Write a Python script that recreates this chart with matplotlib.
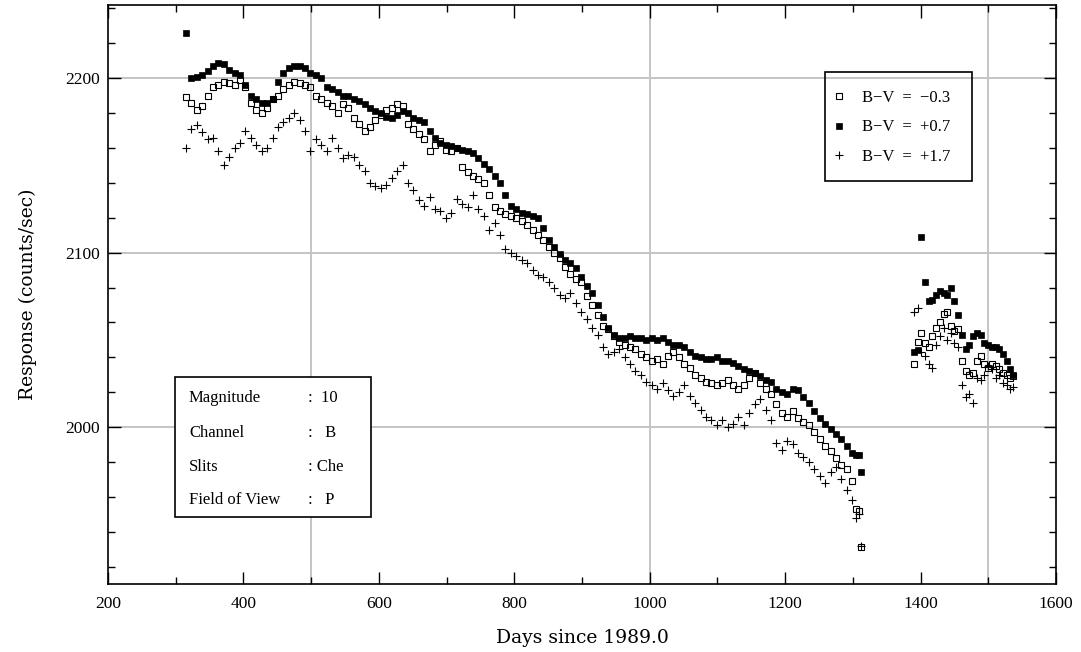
import matplotlib
matplotlib.use("Agg")
import matplotlib.pyplot as plt
from matplotlib.ticker import MultipleLocator
from matplotlib.patches import Rectangle

# ---------------- data ----------------
days = [315, 323, 331, 339, 347, 355, 363, 371, 379, 387, 395, 403, 411, 419, 427,
        435, 443, 451, 459, 467, 475, 483, 491, 499, 507, 515, 523, 531, 539, 547,
        555, 563, 571, 579, 587, 595, 603, 611, 619, 627, 635, 643, 651, 659, 667,
        675, 683, 691, 699, 707, 715, 723, 731, 739, 747, 755, 763, 771, 779, 787,
        795, 803, 811, 819, 827, 835, 843, 851, 859, 867, 875, 883, 891, 899, 907,
        915, 923, 931, 939, 947, 955, 963, 971, 979, 987, 995, 1003, 1011, 1019, 1027,
        1035, 1043, 1051, 1059, 1067, 1075, 1083, 1091, 1099, 1107, 1115, 1123, 1131, 1139, 1147,
        1155, 1163, 1171, 1179, 1187, 1195, 1203, 1211, 1219, 1227, 1235, 1243, 1251, 1259, 1267,
        1275, 1283, 1291, 1299, 1305, 1309, 1312]

resp_m03 = [2189, 2186, 2182, 2184, 2190, 2195, 2196, 2198, 2197, 2196, 2199, 2195, 2186, 2182, 2180,
            2183, 2188, 2190, 2194, 2196, 2198, 2197, 2196, 2195, 2190, 2188, 2186, 2184, 2180, 2185,
            2183, 2177, 2174, 2170, 2172, 2176, 2179, 2182, 2183, 2185, 2184, 2174, 2171, 2168, 2165,
            2158, 2162, 2164, 2159, 2158, 2160, 2149, 2146, 2144, 2142, 2140, 2133, 2126, 2124, 2122,
            2121, 2120, 2118, 2116, 2113, 2110, 2107, 2103, 2100, 2097, 2092, 2088, 2085, 2083, 2075,
            2070, 2064, 2058, 2056, 2052, 2049, 2047, 2046, 2045, 2042, 2040, 2038, 2039, 2036, 2041,
            2043, 2040, 2036, 2034, 2030, 2028, 2026, 2025, 2024, 2025, 2027, 2024, 2022, 2024, 2028,
            2031, 2025, 2022, 2019, 2013, 2008, 2006, 2009, 2005, 2003, 2001, 1997, 1993, 1989, 1986,
            1982, 1978, 1976, 1969, 1953, 1952, 1931]

resp_p07 = [2226, 2200, 2201, 2202, 2204, 2207, 2209, 2208, 2205, 2203, 2202, 2196, 2190, 2188, 2186,
            2186, 2188, 2198, 2203, 2206, 2207, 2207, 2206, 2203, 2202, 2200, 2195, 2194, 2192, 2190,
            2190, 2188, 2187, 2185, 2183, 2181, 2180, 2178, 2177, 2179, 2181, 2180, 2177, 2176, 2175,
            2170, 2166, 2163, 2162, 2161, 2160, 2159, 2158, 2157, 2154, 2151, 2148, 2144, 2140, 2133,
            2127, 2125, 2123, 2122, 2121, 2120, 2114, 2107, 2103, 2099, 2096, 2094, 2091, 2086, 2081,
            2077, 2070, 2063, 2057, 2053, 2051, 2051, 2052, 2051, 2051, 2050, 2051, 2050, 2051, 2049,
            2047, 2047, 2046, 2043, 2041, 2040, 2039, 2039, 2040, 2038, 2038, 2037, 2035, 2033, 2032,
            2031, 2029, 2027, 2026, 2022, 2020, 2019, 2022, 2021, 2017, 2014, 2009, 2005, 2002, 1999,
            1996, 1993, 1989, 1985, 1984, 1984, 1974]

resp_p17 = [2160, 2171, 2173, 2169, 2165, 2166, 2158, 2150, 2155, 2160, 2163, 2170, 2166, 2162, 2158,
            2160, 2166, 2172, 2175, 2177, 2180, 2176, 2170, 2158, 2165, 2162, 2158, 2166, 2160, 2154,
            2156, 2155, 2150, 2147, 2140, 2138, 2137, 2139, 2143, 2147, 2150, 2140, 2136, 2130, 2127,
            2132, 2125, 2124, 2120, 2123, 2131, 2128, 2126, 2133, 2125, 2121, 2113, 2117, 2110, 2102,
            2100, 2098, 2096, 2094, 2090, 2087, 2086, 2083, 2080, 2076, 2074, 2077, 2071, 2066, 2062,
            2057, 2053, 2046, 2042, 2043, 2045, 2040, 2036, 2032, 2030, 2026, 2024, 2022, 2025, 2021,
            2018, 2020, 2024, 2018, 2014, 2010, 2006, 2004, 2001, 2004, 2000, 2002, 2006, 2001, 2008,
            2013, 2016, 2010, 2004, 1991, 1987, 1992, 1990, 1985, 1983, 1980, 1976, 1972, 1968, 1974,
            1977, 1970, 1964, 1958, 1948, 1950, 1932]

days2 = [1390, 1396, 1401, 1406, 1412, 1417, 1423, 1428, 1434, 1439, 1445, 1450, 1456, 1461,
         1467, 1472, 1478, 1483, 1489, 1494, 1500, 1505, 1511, 1516, 1522, 1527, 1532, 1536]

resp2_m03 = [2036, 2049, 2054, 2048, 2046, 2052, 2057, 2060, 2065, 2066, 2058, 2055, 2056, 2038,
             2032, 2030, 2031, 2038, 2041, 2036, 2034, 2036, 2035, 2033, 2031, 2030, 2028, 2029]
resp2_p07 = [2043, 2044, 2109, 2083, 2072, 2073, 2076, 2078, 2077, 2076, 2080, 2072, 2064, 2053,
             2045, 2047, 2052, 2054, 2053, 2048, 2047, 2046, 2046, 2045, 2042, 2038, 2033, 2030]
resp2_p17 = [2066, 2068, 2043, 2041, 2036, 2034, 2047, 2052, 2057, 2050, 2054, 2048, 2046, 2024,
             2017, 2019, 2014, 2028, 2027, 2030, 2035, 2033, 2028, 2030, 2025, 2024, 2022, 2023]

series_labels = ["B\u2212V  =  \u22120.3", "B\u2212V  =  +0.7", "B\u2212V  =  +1.7"]
info_keys = ["Magnitude", "Channel", "Slits", "Field of View"]
info_vals = [":  10", ":   B", ": Che", ":   P"]
grid_x = [500, 1000, 1500]
grid_y = [2000, 2100, 2200]
x_label = "Days since 1989.0"
y_label = "Response (counts/sec)"

# ---------------- plot ----------------
plt.rcParams["font.family"] = ["Liberation Serif", "DejaVu Serif"]

W, H = 1081, 652
fig = plt.figure(figsize=(W / 100, H / 100), dpi=100)
ax = fig.add_axes([108 / W, 1 - 584 / H, (1056 - 108) / W, (584 - 5) / H])

def ax_x(px):
    return (px - 108) / 948

def ax_y(py):
    return (584 - py) / 579

for gx in grid_x:
    ax.axvline(gx, color="#c4c4c4", lw=1.4, zorder=0)
for gy in grid_y:
    ax.axhline(gy, color="#c4c4c4", lw=1.4, zorder=0)

ms_sq = 4.6
ms_pl = 6.2
h1, = ax.plot(days + days2, resp_m03 + resp2_m03, ls="none", marker="s", ms=ms_sq,
              mfc="none", mec="black", mew=0.8, label=series_labels[0], zorder=3)
h2, = ax.plot(days + days2, resp_p07 + resp2_p07, ls="none", marker="s", ms=ms_sq,
              mfc="black", mec="black", mew=0.5, label=series_labels[1], zorder=2)
h3, = ax.plot(days + days2, resp_p17 + resp2_p17, ls="none", marker="+", ms=ms_pl,
              color="black", mew=0.8, label=series_labels[2], zorder=2)

ax.set_xlim(200, 1600)
ax.set_ylim(1910, 2242)
ax.xaxis.set_major_locator(MultipleLocator(200))
ax.xaxis.set_minor_locator(MultipleLocator(100))
ax.yaxis.set_major_locator(MultipleLocator(100))
ax.yaxis.set_minor_locator(MultipleLocator(20))
ax.tick_params(which="both", direction="in", top=True, right=True, labelsize=12.5,
               width=1.0, colors="black")
ax.tick_params(which="major", length=9)
ax.tick_params(axis="x", which="major", pad=9)
ax.tick_params(axis="y", which="major", pad=6)
ax.tick_params(which="minor", length=5)
for s in ax.spines.values():
    s.set_linewidth(1.2)

ax.set_xlabel(x_label, fontsize=13.5, family="DejaVu Serif", labelpad=12)
ax.set_ylabel(y_label, fontsize=13.5, family="DejaVu Serif", labelpad=20)

# legend: entries without frame, frame drawn as rectangle
leg = ax.legend(handles=[h1, h2, h3], loc="upper left",
                bbox_to_anchor=(ax_x(834), ax_y(90)),
                frameon=False, fontsize=12,
                labelspacing=0.8, handlelength=0.6, handletextpad=1.05,
                borderpad=0.0, borderaxespad=0.0)
ax.add_patch(Rectangle((ax_x(825), ax_y(181)), ax_x(972) - ax_x(825), ax_y(72) - ax_y(181),
                       transform=ax.transAxes, fill=False, edgecolor="black", lw=1.2,
                       zorder=5))

# info box
ax.add_patch(Rectangle((ax_x(175), ax_y(517)), ax_x(371) - ax_x(175), ax_y(377) - ax_y(517),
                       transform=ax.transAxes, facecolor="white", edgecolor="black",
                       lw=1.2, zorder=5))
line_py = [398, 433, 467, 500]
for k, v, py in zip(info_keys, info_vals, line_py):
    ax.text(ax_x(189), ax_y(py), k, transform=ax.transAxes, fontsize=12,
            va="center", ha="left", zorder=6)
    ax.text(ax_x(308), ax_y(py), v, transform=ax.transAxes, fontsize=12,
            va="center", ha="left", zorder=6)

fig.savefig("out.png", dpi=100)
